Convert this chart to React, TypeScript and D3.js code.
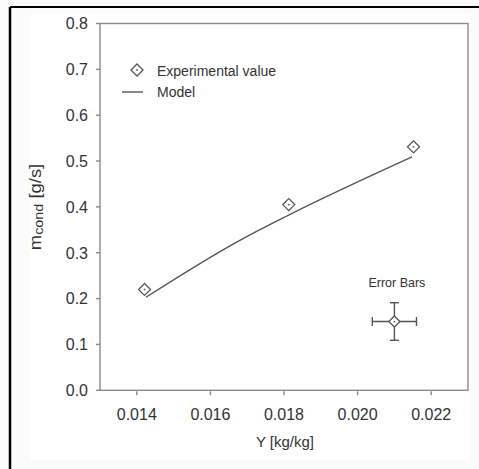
import React from "react";
import * as d3 from "d3";

// Measured condensation rate against humidity ratio
const expHumidity = [0.01421, 0.01813, 0.02152];
const expRate = [0.22, 0.405, 0.531];

// Model prediction
const modelHumidity = [0.01425, 0.0168, 0.0181, 0.02148];
const modelRate = [0.203, 0.327, 0.381, 0.509];

// Representative error bar
const errCenter = [0.0210, 0.15];
const errHalf = [0.0006, 0.041];

const xTicks = [0.014, 0.016, 0.018, 0.02, 0.022];
const yTicks = [0, 0.1, 0.2, 0.3, 0.4, 0.5, 0.6, 0.7, 0.8];

const W = 479;
const H = 469;
const left = 100;
const right = 468;
const top = 23.5;
const bottom = 390.3;

const axisColor = "#8a8a8a";
const markColor = "#555";
const textColor = "#333";
const font = "'Liberation Sans', Arial, sans-serif";

function Diamond({ cx, cy, r = 6 }: { cx: number; cy: number; r?: number }) {
  const d = `M${cx},${cy - r}L${cx + r},${cy}L${cx},${cy + r}L${cx - r},${cy}Z`;
  return (
    <g>
      <path d={d} fill="white" stroke={markColor} strokeWidth={1.3} />
      <circle cx={cx} cy={cy} r={0.9} fill={markColor} />
    </g>
  );
}

export default function App() {
  const x = d3.scaleLinear().domain([0.013, 0.023]).range([left, right]);
  const y = d3.scaleLinear().domain([0, 0.8]).range([bottom, top]);

  const modelPts: [number, number][] = modelHumidity.map((h, i) => [h, modelRate[i]]);
  const line = d3
    .line<[number, number]>()
    .x((d) => x(d[0]))
    .y((d) => y(d[1]))
    .curve(d3.curveMonotoneX);

  const ex = x(errCenter[0]);
  const ey = y(errCenter[1]);
  const exL = x(errCenter[0] - errHalf[0]);
  const exR = x(errCenter[0] + errHalf[0]);
  const eyT = y(errCenter[1] + errHalf[1]);
  const eyB = y(errCenter[1] - errHalf[1]);
  const cap = 4.5;

  return (
    <div style={{ position: "absolute", left: 0, top: 0 }}>
      <svg width={W} height={H} style={{ display: "block", fontFamily: font }}>
        <rect x={0} y={0} width={W} height={H} fill="#fbfbfb" />
        <rect x={30} y={14} width={440} height={446} fill="#ffffff" />
        <line x1={10} y1={7} x2={W} y2={7} stroke="#000" strokeWidth={2} />
        <line x1={10} y1={7} x2={10} y2={H} stroke="#000" strokeWidth={2.5} />

        {/* plot frame */}
        <rect
          x={left}
          y={top}
          width={right - left}
          height={bottom - top}
          fill="white"
          stroke={axisColor}
          strokeWidth={1.4}
        />

        {/* y axis ticks */}
        {yTicks.map((t) => (
          <g key={"y" + t}>
            <line x1={left - 4} x2={left} y1={y(t)} y2={y(t)} stroke={axisColor} strokeWidth={1.4} />
            <text
              x={88}
              y={y(t)}
              dy="0.36em"
              textAnchor="end"
              fontSize={16}
              fill={textColor}
            >
              {d3.format(".1f")(t)}
            </text>
          </g>
        ))}

        {/* x axis ticks */}
        {xTicks.map((t) => (
          <g key={"x" + t}>
            <line x1={x(t)} x2={x(t)} y1={bottom + 1} y2={bottom + 5} stroke={axisColor} strokeWidth={1.4} />
            <text x={x(t)} y={420} textAnchor="middle" fontSize={16} fill={textColor}>
              {d3.format(".3f")(t)}
            </text>
          </g>
        ))}

        {/* axis titles */}
        <text x={285} y={447} textAnchor="middle" fontSize={15} fill={textColor}>
          Y [kg/kg]
        </text>
        <text
          transform="translate(41,207) rotate(-90) scale(1.15,1)"
          textAnchor="middle"
          fontSize={16}
          fill={textColor}
        >
          m
          <tspan fontSize={12.5} dy={2}>
            cond
          </tspan>
          <tspan dy={-2}> [g/s]</tspan>
        </text>

        {/* model curve */}
        <path d={line(modelPts) ?? ""} fill="none" stroke={markColor} strokeWidth={1.4} />

        {/* experimental points */}
        {expHumidity.map((h, i) => (
          <Diamond key={"e" + i} cx={x(h)} cy={y(expRate[i])} />
        ))}

        {/* legend */}
        <Diamond cx={137} cy={70} />
        <text x={157} y={76} fontSize={14} fill={textColor}>
          Experimental value
        </text>
        <line x1={122} x2={143} y1={92} y2={92} stroke={markColor} strokeWidth={1.4} />
        <text x={157} y={97} fontSize={14} fill={textColor}>
          Model
        </text>

        {/* error bar sample */}
        <text x={ex + 2.5} y={287} textAnchor="middle" fontSize={12.5} fill={textColor}>
          Error Bars
        </text>
        <g stroke={markColor} strokeWidth={1.4}>
          <line x1={exL} x2={exR} y1={ey} y2={ey} />
          <line x1={exL} x2={exL} y1={ey - cap} y2={ey + cap} />
          <line x1={exR} x2={exR} y1={ey - cap} y2={ey + cap} />
          <line x1={ex} x2={ex} y1={eyT} y2={eyB} />
          <line x1={ex - cap} x2={ex + cap} y1={eyT} y2={eyT} />
          <line x1={ex - cap} x2={ex + cap} y1={eyB} y2={eyB} />
        </g>
        <Diamond cx={ex} cy={ey} r={5.5} />
      </svg>
    </div>
  );
}
